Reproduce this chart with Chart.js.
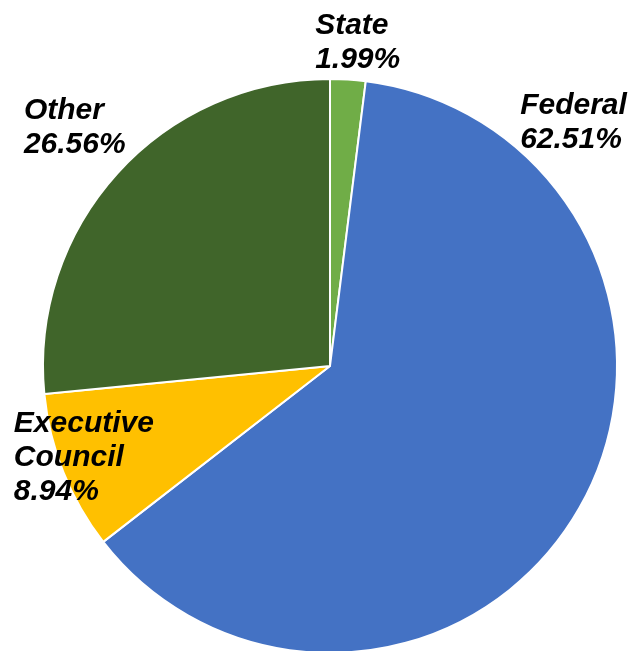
<!DOCTYPE html>
<html>
<head>
<meta charset="utf-8">
<script src="https://cdn.jsdelivr.net/npm/chart.js@4"></script>
<style>
  html, body { margin: 0; padding: 0; background: #fff; overflow: hidden; }
  #wrap { width: 637px; height: 651px; overflow: hidden; }
</style>
</head>
<body>
<div id="wrap"><canvas id="pieChart" width="637" height="660"></canvas></div>
<script>
// Data
const categories = ['State', 'Federal', 'Executive Council', 'Other'];
const shares = [1.99, 62.51, 8.94, 26.56];
const labelLines = [
  ['State', '1.99%'],
  ['Federal', '62.51%'],
  ['Executive', 'Council', '8.94%'],
  ['Other', '26.56%']
];

// Slice colors
const sliceColors = ['#70ad47', '#4472c4', '#ffc000', '#40652a'];

// Where each label block sits: angle (deg, clockwise from top) and distance as a fraction of the radius
const labelSpots = [
  { angle: 4.9, dist: 1.13 },
  { angle: 45, dist: 1.2 },
  { angle: 249.6, dist: 0.915 },
  { angle: -47, dist: 1.216 }
];

const sliceLabels = {
  id: 'sliceLabels',
  afterDatasetsDraw(chart) {
    const ctx = chart.ctx;
    const meta = chart.getDatasetMeta(0);
    const arc = meta.data[0];
    const cx = arc.x, cy = arc.y, r = arc.outerRadius;
    const lineH = 34;
    ctx.save();
    ctx.font = 'italic bold 30px "Liberation Sans", Arial, sans-serif';
    ctx.fillStyle = '#000';
    ctx.textAlign = 'left';
    ctx.textBaseline = 'middle';
    labelLines.forEach((lines, i) => {
      const spot = labelSpots[i];
      const a = spot.angle * Math.PI / 180;
      const ax = cx + Math.sin(a) * r * spot.dist;
      const ay = cy - Math.cos(a) * r * spot.dist;
      const w = Math.max(...lines.map(t => ctx.measureText(t).width));
      const left = ax - w / 2;
      const top = ay - (lines.length - 1) * lineH / 2;
      lines.forEach((t, j) => ctx.fillText(t, left, top + j * lineH));
    });
    ctx.restore();
  }
};

new Chart(document.getElementById('pieChart').getContext('2d'), {
  type: 'pie',
  data: {
    labels: categories,
    datasets: [{
      data: shares,
      backgroundColor: sliceColors,
      borderColor: '#ffffff',
      borderWidth: 2
    }]
  },
  options: {
    responsive: false,
    animation: false,
    layout: {
      padding: { left: 42, right: 19, top: 78, bottom: 6 }
    },
    plugins: {
      legend: { display: false },
      tooltip: { enabled: false }
    }
  },
  plugins: [sliceLabels]
});
</script>
</body>
</html>
